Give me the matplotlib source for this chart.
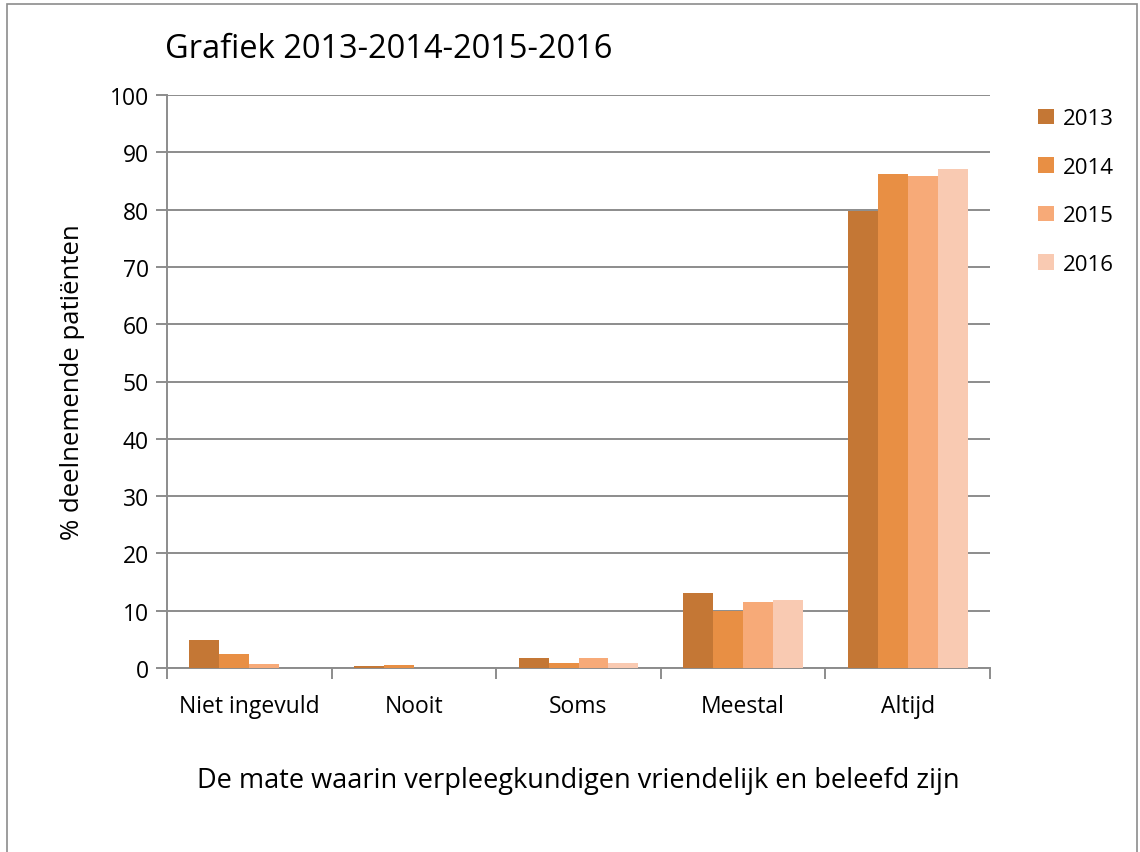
import matplotlib.pyplot as plt
import numpy as np
from matplotlib.patches import Rectangle

plt.rcParams['font.family'] = ['Open Sans', 'DejaVu Sans']

categories = ['Niet ingevuld', 'Nooit', 'Soms', 'Meestal', 'Altijd']
years = ['2013', '2014', '2015', '2016']
v2013 = [4.9, 0.3, 1.7, 13.1, 79.8]
v2014 = [2.4, 0.5, 0.8, 10.0, 86.2]
v2015 = [0.7, 0.0, 1.7, 11.6, 85.8]
v2016 = [0.0, 0.0, 0.9, 11.9, 87.0]
colors = ['#C47735', '#E88F44', '#F7AA78', '#F9CAB2']

fig = plt.figure(figsize=(11.4, 8.53), dpi=100)
ax = fig.add_axes([167 / 1140, 1 - 669 / 853, 823 / 1140, 573 / 853])

x = np.arange(len(categories))
w = 0.182
series = [v2013, v2014, v2015, v2016]
for i, (vals, c, yr) in enumerate(zip(series, colors, years)):
    ax.bar(x + (i - 1.5) * w, vals, w, color=c, label=yr, zorder=3)

ax.set_xlim(-0.5, len(categories) - 0.5)
ax.set_ylim(0, 100)
ax.set_yticks(range(0, 101, 10))
ax.yaxis.grid(True, color='#8c8c8c', linewidth=1.4, zorder=0)
ax.set_axisbelow(True)
for s in ['top', 'right']:
    ax.spines[s].set_visible(False)
for s in ['left', 'bottom']:
    ax.spines[s].set_color('#8c8c8c')
    ax.spines[s].set_linewidth(1.4)

ax.set_xticks(x)
ax.set_xticklabels(categories, fontsize=16.5)
ax.tick_params(axis='x', length=0, pad=19)
ax.set_xticks(np.arange(-0.5, len(categories)), minor=True)
ax.tick_params(axis='x', which='minor', length=8, width=1.4, color='#8c8c8c')
ax.tick_params(axis='y', length=8, width=1.4, color='#8c8c8c', labelsize=16.5, pad=5)

ax.set_ylabel('% deelnemende patiënten', fontsize=18.5, labelpad=18)
ax.set_xlabel('De mate waarin verpleegkundigen vriendelijk en beleefd zijn', fontsize=19.5, labelpad=34)

fig.text(165 / 1140, 1 - 50 / 853, 'Grafiek 2013-2014-2015-2016', fontsize=23.5, va='center')

ax.legend(loc='upper left', bbox_to_anchor=(1.034, 1.012), frameon=False, fontsize=16,
          handlelength=0.7, handleheight=0.7, labelspacing=1.24, handletextpad=0.4)

fig.add_artist(Rectangle((7 / 1140, -0.01), 1130 / 1140, 1 - 5 / 853 + 0.01, transform=fig.transFigure,
                         fill=False, edgecolor='#8c8c8c', linewidth=1.2))

fig.savefig('out.png', dpi=100)
